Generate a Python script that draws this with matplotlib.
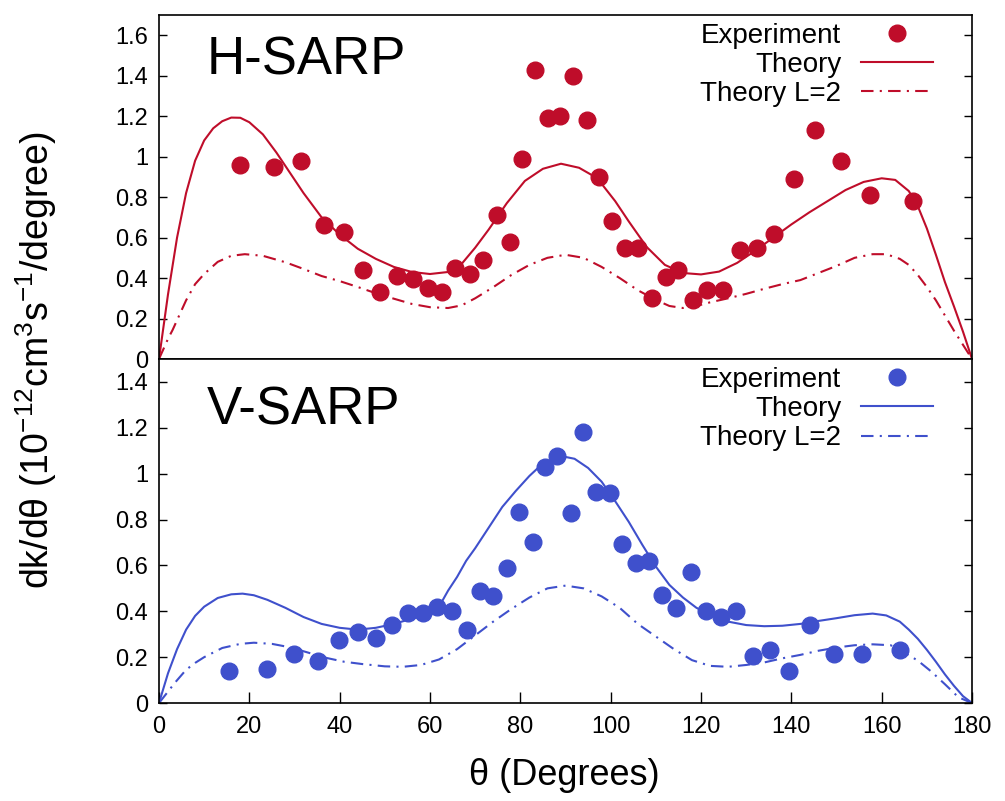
import matplotlib
matplotlib.use("Agg")
import matplotlib.pyplot as plt
from matplotlib.lines import Line2D
from matplotlib.ticker import FuncFormatter, MultipleLocator

plt.rcParams["font.family"] = ["Liberation Sans", "DejaVu Sans"]
plt.rcParams["mathtext.default"] = "regular"

RED = "#bf0d2a"
BLUE = "#3f50cc"

# ---------- data: H-SARP ----------
h_exp_x = [17.9, 25.5, 31.4, 36.5, 41.0, 45.2, 48.9, 52.7, 56.2, 59.6, 62.7, 65.5, 68.9, 71.7,
           74.8, 77.7, 80.4, 83.2, 86.1, 88.8, 91.7, 94.8, 97.4, 100.3, 103.2, 106.0, 109.1,
           112.2, 114.9, 118.2, 121.3, 124.9, 128.6, 132.4, 136.2, 140.6, 145.2, 151.0, 157.4, 166.9]
h_exp_y = [0.96, 0.95, 0.98, 0.66, 0.63, 0.44, 0.33, 0.41, 0.395, 0.35, 0.33, 0.45, 0.42, 0.49,
           0.71, 0.58, 0.99, 1.43, 1.19, 1.20, 1.40, 1.18, 0.90, 0.68, 0.55, 0.55, 0.30,
           0.405, 0.44, 0.29, 0.34, 0.34, 0.54, 0.55, 0.62, 0.89, 1.13, 0.98, 0.81, 0.78]

h_th_x = [0, 2, 4, 6, 8, 10, 12, 14, 16, 18, 20, 23, 26, 29, 32, 36, 40, 44, 48, 52, 56, 60, 64,
          67, 70, 73, 77, 81, 85, 89, 93, 97, 101, 104, 108, 112, 116, 120, 124, 128, 132, 136,
          140, 144, 148, 152, 156, 160, 163, 166, 168, 170, 172, 174, 176, 178, 180]
h_th_y = [0, 0.32, 0.60, 0.82, 0.98, 1.08, 1.14, 1.175, 1.193, 1.192, 1.17, 1.11, 1.02, 0.92,
          0.82, 0.70, 0.615, 0.545, 0.495, 0.455, 0.43, 0.42, 0.43, 0.47, 0.55, 0.64, 0.77, 0.88,
          0.94, 0.965, 0.945, 0.894, 0.78, 0.68, 0.553, 0.465, 0.425, 0.418, 0.432, 0.475, 0.535,
          0.60, 0.665, 0.725, 0.78, 0.835, 0.875, 0.893, 0.885, 0.83, 0.755, 0.645, 0.515, 0.38,
          0.26, 0.135, 0]

h_l2_x = [0, 2, 3, 6, 8, 10, 13, 16, 19, 23, 28, 32, 36, 40, 44, 48, 52, 56, 60, 64, 67, 70, 74,
          78, 82, 86, 90, 94, 98, 102, 106, 110, 113, 116, 119, 122, 126, 130, 134, 138, 142, 146,
          150, 154, 158, 161, 164, 166, 168, 170, 172, 174, 176, 178, 180]
h_l2_y = [0, 0.10, 0.143, 0.29, 0.37, 0.42, 0.48, 0.51, 0.518, 0.51, 0.478, 0.445, 0.41, 0.385,
          0.356, 0.325, 0.298, 0.272, 0.256, 0.252, 0.265, 0.30, 0.355, 0.415, 0.465, 0.50, 0.515,
          0.50, 0.455, 0.40, 0.34, 0.292, 0.262, 0.252, 0.262, 0.28, 0.30, 0.322, 0.347, 0.37,
          0.39, 0.425, 0.46, 0.50, 0.518, 0.518, 0.495, 0.465, 0.415, 0.356, 0.29, 0.215, 0.14,
          0.07, 0]

# ---------- data: V-SARP ----------
v_exp_x = [15.5, 23.9, 29.9, 35.2, 39.8, 44.1, 48.0, 51.6, 55.1, 58.4, 61.5, 64.9, 68.2, 71.1,
           73.9, 77.0, 79.7, 82.8, 85.5, 88.1, 91.2, 93.9, 96.7, 99.8, 102.5, 105.6, 108.5,
           111.4, 114.5, 117.8, 121.1, 124.4, 127.7, 131.5, 135.3, 139.5, 144.1, 149.4, 155.6, 164.0]
v_exp_y = [0.14, 0.15, 0.214, 0.184, 0.276, 0.311, 0.284, 0.341, 0.393, 0.393, 0.42, 0.40, 0.32,
           0.49, 0.465, 0.59, 0.835, 0.70, 1.03, 1.075, 0.83, 1.18, 0.92, 0.915, 0.695, 0.61,
           0.62, 0.47, 0.415, 0.57, 0.40, 0.375, 0.40, 0.205, 0.23, 0.14, 0.34, 0.213, 0.213, 0.23]

v_th_x = [0, 2, 4, 6, 8, 10, 13, 16, 18.5, 21, 24, 28, 32, 36, 40, 44, 48, 52, 56, 60, 62, 64,
          66, 68, 70, 73, 76, 79, 82, 85, 89, 92, 95, 98, 101, 104, 107, 110, 113, 116, 119, 122,
          126, 130, 134, 138, 142, 146, 150, 154, 158, 161, 164, 166, 168, 170, 172, 174, 176,
          178, 180]
v_th_y = [0, 0.13, 0.235, 0.32, 0.38, 0.42, 0.458, 0.474, 0.477, 0.47, 0.45, 0.415, 0.375, 0.345,
          0.328, 0.32, 0.328, 0.345, 0.368, 0.392, 0.42, 0.49, 0.55, 0.62, 0.675, 0.765, 0.855,
          0.925, 0.99, 1.045, 1.077, 1.065, 1.025, 0.965, 0.88, 0.79, 0.69, 0.595, 0.515, 0.46,
          0.415, 0.388, 0.355, 0.34, 0.335, 0.337, 0.345, 0.358, 0.37, 0.383, 0.39, 0.382, 0.355,
          0.32, 0.28, 0.232, 0.18, 0.125, 0.075, 0.03, 0]

v_l2_x = [0, 2, 3.5, 6, 8, 10, 14, 18, 21, 25, 29, 33, 37, 41, 45, 50, 54, 58, 62, 66, 70, 74,
          78, 82, 86, 90, 94, 98, 102, 106, 110, 114, 118, 122, 126, 130, 134, 138, 142, 146, 150,
          154, 158, 162, 165, 168, 171, 174, 177, 180]
v_l2_y = [0, 0.05, 0.088, 0.145, 0.175, 0.20, 0.24, 0.258, 0.263, 0.258, 0.243, 0.22, 0.197,
          0.18, 0.17, 0.16, 0.158, 0.166, 0.19, 0.235, 0.295, 0.355, 0.41, 0.46, 0.50, 0.512,
          0.50, 0.465, 0.415, 0.345, 0.29, 0.235, 0.187, 0.162, 0.158, 0.166, 0.177, 0.195, 0.21,
          0.228, 0.242, 0.252, 0.256, 0.252, 0.22, 0.185, 0.137, 0.082, 0.025, 0]

x_ticks = [0, 20, 40, 60, 80, 100, 120, 140, 160, 180]

# ---------- plot ----------
fig = plt.figure(figsize=(10.05, 8.01), dpi=100)
ax1 = fig.add_axes([0.1582, 0.5518, 0.8090, 0.4295])
ax2 = fig.add_axes([0.1582, 0.1223, 0.8090, 0.4295])

DASHDOT = (0, (6, 3, 1, 3))
gfmt = FuncFormatter(lambda v, p: "%g" % round(v, 2))


def panel(ax, color, ex, ey, tx, ty, lx, ly, ymax, title, ty_title):
    ax.plot(tx, ty, color=color, lw=1.5)
    ax.plot(lx, ly, color=color, lw=1.5, linestyle=DASHDOT)
    ax.plot(ex, ey, "o", color=color, ms=12, mec=color)
    ax.set_xlim(0, 180)
    ax.set_ylim(0, ymax)
    ax.yaxis.set_major_locator(MultipleLocator(0.2))
    ax.yaxis.set_major_formatter(gfmt)
    ax.tick_params(axis="y", which="both", direction="in", length=6, width=1,
                   left=True, right=True, labelsize=17, pad=8)
    for s in ax.spines.values():
        s.set_linewidth(1.2)
    ax.text(0.059, ty_title, title, transform=ax.transAxes,
            fontsize=38, ha="left", va="baseline")
    handles = [
        Line2D([], [], marker="o", ls="none", color=color, ms=12),
        Line2D([], [], color=color, lw=1.5),
        Line2D([], [], color=color, lw=1.5, linestyle=DASHDOT),
    ]
    ax.legend(handles, ["Experiment", "Theory", "Theory L=2"], loc="upper right",
              bbox_to_anchor=(0.952, 0.978), frameon=False, markerfirst=False,
              fontsize=20, handlelength=2.6, handletextpad=0.7, labelspacing=0.12,
              borderpad=0, borderaxespad=0)


panel(ax1, RED, h_exp_x, h_exp_y, h_th_x, h_th_y, h_l2_x, h_l2_y, 1.7, "H-SARP", 0.826)
panel(ax2, BLUE, v_exp_x, v_exp_y, v_th_x, v_th_y, v_l2_x, v_l2_y, 1.5, "V-SARP", 0.811)

ax1.set_xticks(x_ticks)
ax1.tick_params(axis="x", bottom=False, top=False, labelbottom=False)
ax2.set_xticks(x_ticks)
ax2.tick_params(axis="x", direction="in", length=8, width=1, top=False,
                labelsize=17, pad=9)

fig.text(0.562, 0.032, "θ (Degrees)", ha="center", va="center", fontsize=26)
fig.text(0.036, 0.551, r"dk/dθ (10$^{-12}$cm$^{3}$s$^{-1}$/degree)", ha="center",
         va="center", rotation=90, fontsize=27)

fig.savefig("out.png", dpi=100)
